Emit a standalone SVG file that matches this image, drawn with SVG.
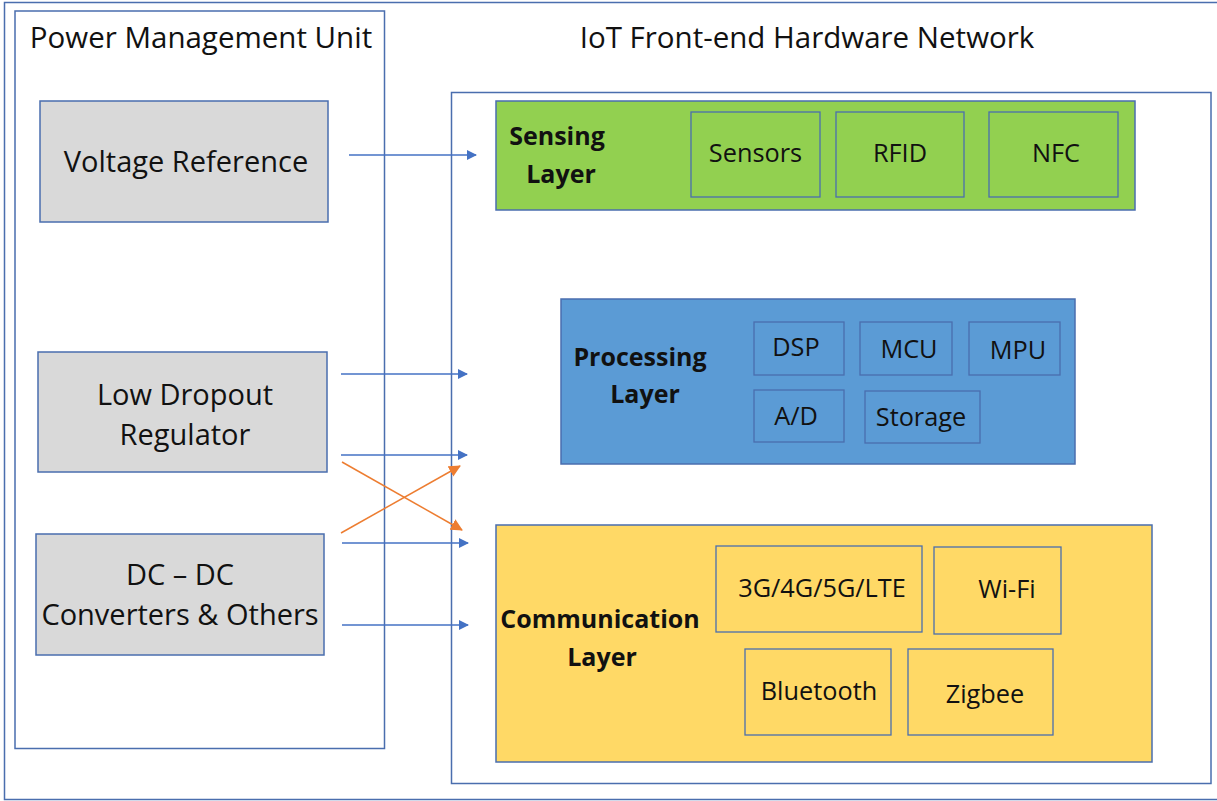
<svg xmlns="http://www.w3.org/2000/svg" width="1217" height="801" viewBox="0 0 1217 801">
  <style>
    .frame { fill: none; stroke: #4a6eae; stroke-width: 1.5; }
    .pm { fill: #d9d9d9; stroke: #4a6eae; stroke-width: 1.5; }
    .sense { fill: #92d050; stroke: #4a6eae; stroke-width: 1.5; }
    .proc { fill: #5b9bd5; stroke: #4a6eae; stroke-width: 1.5; }
    .comm { fill: #ffd966; stroke: #4a6eae; stroke-width: 1.5; }
    .item { fill: none; stroke: #4a6eae; stroke-width: 1.3; }
    text { font-family: "Open Sans", "Noto Sans", sans-serif; fill: #111; }
    .title { font-size: 29.5px; text-anchor: middle; }
    .lbl { font-size: 29px; text-anchor: middle; }
    .layer { font-size: 25px; font-weight: bold; text-anchor: middle; }
    .sm { font-size: 25.3px; text-anchor: middle; }
    .blue { stroke: #4472c4; stroke-width: 1.3; fill: none; marker-end: url(#ah-blue); }
    .orange { stroke: #ed7d31; stroke-width: 1.5; fill: none; marker-end: url(#ah-orange); }
  </style>
  <defs>
    <marker id="ah-blue" markerWidth="10" markerHeight="10" refX="9" refY="5" orient="auto" markerUnits="userSpaceOnUse">
      <path d="M0,0 L10,5 L0,10 z" fill="#4472c4"/>
    </marker>
    <marker id="ah-orange" markerWidth="12" markerHeight="12" refX="11" refY="6" orient="auto" markerUnits="userSpaceOnUse">
      <path d="M0,0 L12,6 L0,12 z" fill="#ed7d31"/>
    </marker>
  </defs>

  <rect width="1217" height="801" fill="#ffffff"/>
  <!-- outer frame -->
  <rect class="frame" x="4.5" y="2.5" width="1220" height="797"/>

  <!-- power management unit -->
  <g id="power-management-unit">
    <rect class="frame" x="15" y="11" width="369.5" height="737.5"/>
    <text class="title" x="201" y="48">Power Management Unit</text>
  </g>
  <g id="voltage-reference">
    <rect class="pm" x="40" y="101" width="288" height="121"/>
    <text class="lbl" x="186" y="172">Voltage Reference</text>
  </g>
  <g id="low-dropout-regulator">
    <rect class="pm" x="38" y="352" width="289" height="120"/>
    <text class="lbl" x="185" y="405">Low Dropout</text>
    <text class="lbl" x="185" y="445">Regulator</text>
  </g>
  <g id="dc-dc-converters">
    <rect class="pm" x="36" y="534" width="288" height="121"/>
    <text class="lbl" x="180" y="585">DC – DC</text>
    <text class="lbl" x="180" y="625">Converters &amp; Others</text>
  </g>

  <!-- IoT front-end hardware network -->
  <g id="iot-network">
    <rect class="frame" x="451.5" y="92.5" width="759.5" height="691"/>
    <text class="title" x="807" y="48">IoT Front-end Hardware Network</text>
  </g>

  <g id="sensing-layer">
    <rect class="sense" x="496" y="101" width="639" height="109"/>
    <text class="layer" x="557" y="145">Sensing</text>
    <text class="layer" x="561" y="183">Layer</text>
    <rect class="item" x="691" y="112" width="129" height="85"/>
    <text class="sm" x="755.5" y="162">Sensors</text>
    <rect class="item" x="836" y="112" width="128" height="85"/>
    <text class="sm" x="900" y="162">RFID</text>
    <rect class="item" x="989" y="112" width="129" height="85"/>
    <text class="sm" x="1056" y="162">NFC</text>
  </g>

  <g id="processing-layer">
    <rect class="proc" x="561" y="299" width="514" height="165"/>
    <text class="layer" x="640" y="366">Processing</text>
    <text class="layer" x="645" y="403">Layer</text>
    <rect class="item" x="754" y="322" width="90" height="53"/>
    <text class="sm" x="796" y="356">DSP</text>
    <rect class="item" x="860" y="322" width="92" height="53"/>
    <text class="sm" x="909" y="358">MCU</text>
    <rect class="item" x="969" y="322" width="91" height="53"/>
    <text class="sm" x="1018" y="359">MPU</text>
    <rect class="item" x="754" y="390" width="90" height="52"/>
    <text class="sm" x="796" y="425">A/D</text>
    <rect class="item" x="865" y="391" width="115" height="52"/>
    <text class="sm" x="921" y="426">Storage</text>
  </g>

  <g id="communication-layer">
    <rect class="comm" x="496" y="525" width="656" height="237"/>
    <text class="layer" x="600" y="628">Communication</text>
    <text class="layer" x="602" y="666">Layer</text>
    <rect class="item" x="716" y="546" width="206" height="86"/>
    <text class="sm" x="822" y="597">3G/4G/5G/LTE</text>
    <rect class="item" x="934" y="547" width="127" height="87"/>
    <text class="sm" x="1007" y="598">Wi-Fi</text>
    <rect class="item" x="745" y="649" width="146" height="86"/>
    <text class="sm" x="819" y="700">Bluetooth</text>
    <rect class="item" x="908" y="649" width="145" height="86"/>
    <text class="sm" x="985" y="703">Zigbee</text>
  </g>

  <!-- supply connectors -->
  <g id="connectors">
    <line class="blue" x1="349" y1="155" x2="476" y2="155"/>
    <line class="blue" x1="341" y1="374" x2="467" y2="374"/>
    <line class="blue" x1="341" y1="455" x2="467" y2="455"/>
    <line class="blue" x1="342" y1="543" x2="468" y2="543"/>
    <line class="blue" x1="342" y1="625" x2="468" y2="625"/>
    <line class="orange" x1="342" y1="462" x2="462" y2="530"/>
    <line class="orange" x1="341" y1="533" x2="460" y2="466"/>
  </g>
</svg>
